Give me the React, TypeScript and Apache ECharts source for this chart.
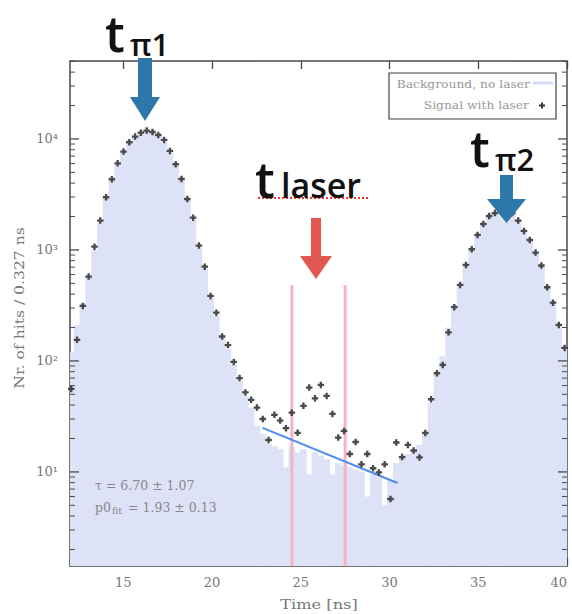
import React, { useEffect, useRef } from 'react';
import * as echarts from 'echarts';

// ---- data -------------------------------------------------------------
const BIN_WIDTH = 0.327; // ns per bin
const FIRST_BIN_CENTER = 12.07; // ns

// Signal with laser (hits per bin), one value per 0.327 ns bin
const SIGNAL = [
  56, 155, 313, 575, 1070, 1840, 2985, 4335, 6030, 7690,
  9340, 10500, 11400, 11900, 11560, 10860, 9800, 7800, 5920, 4360,
  2880, 1955, 1095, 707, 385, 272, 166, 139, 98, 70,
  52, 44.6, 38, 30, 19.4, 32.7, 29, 24.8, 34.2, 22.5,
  39.4, 57.5, 46, 60.8, 48.4, 33.3, 20.4, 23.4, 14.5, 18.6,
  11.7, 14.5, 10.8, 9.9, 11.7, 5.7, 18.4, 13.6, 17.5, 15.6,
  13.5, 22.4, 45.2, 77.4, 92, 181, 305, 484, 733, 1014,
  1365, 1714, 2023, 2150, 2250, 2280, 2150, 1840, 1483, 1230,
  946, 724, 461, 335, 211, 131,
];

// Background, no laser (hits per bin)
const BACKGROUND = [
  120, 210, 330, 560, 1000, 1750, 2900, 4200, 5900, 7500,
  9100, 10300, 11200, 11700, 11400, 10600, 9500, 7600, 5700, 4200,
  2800, 1850, 1050, 680, 370, 255, 160, 128, 92, 66,
  48, 38, 26, 22, 18, 17, 16, 11, 17, 15,
  16, 9.5, 15, 14, 13, 9.5, 12, 11.5, 11, 10.5,
  10, 6, 9.5, 9, 5, 8.5, 12, 13.5, 14.5, 15.8,
  17.5, 21.5, 42, 75, 110, 200, 320, 480, 720, 1000,
  1350, 1700, 2000, 2150, 2250, 2270, 2150, 1850, 1500, 1230,
  950, 720, 470, 340, 215, 135,
];

// Exponential fit (tau = 6.70 ns): end points
const FIT_TIMES = [22.85, 30.45];
const FIT_COUNTS = [24.9, 7.95];

// Laser window
const LASER_WINDOW = [24.5, 27.5];
const LASER_LINE_TOP = 480;

const X_TICKS = [15, 20, 25, 30, 35, 40];
const Y_TICKS = [10, 100, 1000, 10000];
const Y_MINOR_TICKS = [
  2, 3, 4, 5, 6, 7, 8, 9,
  20, 30, 40, 50, 60, 70, 80, 90,
  200, 300, 400, 500, 600, 700, 800, 900,
  2000, 3000, 4000, 5000, 6000, 7000, 8000, 9000,
  20000, 30000, 40000, 50000,
];
const X_MIN = 12;
const X_MAX = 40;
const Y_MIN = 1.42;
const Y_MAX = 50400;

const BIN_TIMES = SIGNAL.map((_, i) => +(FIRST_BIN_CENTER + i * BIN_WIDTH).toFixed(3));

// ---- styles -----------------------------------------------------------
const FILL = '#dde2f7';
const AXIS = '#4a4a4a';
const LABEL = '#777';
const SERIF = '"DejaVu Serif", serif';
const SANS = '"Open Sans", sans-serif';
const BLUE_ARROW = '#2e77aa';
const RED_ARROW = '#e2574f';

const SUP: Record<number, string> = { 0: '⁰', 1: '¹', 2: '²', 3: '³', 4: '⁴', 5: '⁵' };

const PLUS = 'path://M3.2,0H6.8V3.2H10V6.8H6.8V10H3.2V6.8H0V3.2H3.2Z';

export default function App() {
  const ref = useRef<HTMLDivElement>(null);

  useEffect(() => {
    if (!ref.current) return;
    const chart = echarts.init(ref.current, undefined, { renderer: 'svg' });

    const tickStyle = { color: AXIS, width: 1.3 };
    const yTickData = [
      ...Y_TICKS.map((v) => [X_MIN, v, 9]),
      ...Y_MINOR_TICKS.map((v) => [X_MIN, v, 5]),
    ];

    const bigT = (text: string, x: number, y: number, size: number) => ({
      type: 'text',
      x,
      y,
      z: 61,
      style: {
        text,
        fill: '#111',
        font: `600 ${size}px ${SANS}`,
        lineHeight: size,
        align: 'left',
        verticalAlign: 'middle',
      },
    });

    const option: any = {
      animation: false,
      backgroundColor: '#fff',
      grid: { left: 70, top: 61, right: 5, bottom: 48, containLabel: false, outerBoundsMode: 'none' },
      xAxis: [
        {
          type: 'value',
          min: X_MIN,
          max: X_MAX,
          position: 'bottom',
          axisLine: { show: true, lineStyle: { color: AXIS, width: 1.5 } },
          axisTick: { show: true, inside: true, length: 8, customValues: X_TICKS, lineStyle: tickStyle },
          axisLabel: {
            customValues: X_TICKS,
            color: LABEL,
            fontFamily: SERIF,
            fontSize: 13,
            margin: 10,
            alignMaxLabel: 'right',
          },
          splitLine: { show: false },
        },
        {
          type: 'value',
          min: X_MIN,
          max: X_MAX,
          position: 'top',
          axisLine: { show: true, lineStyle: { color: AXIS, width: 1.5 } },
          axisTick: { show: true, inside: true, length: 8, customValues: X_TICKS, lineStyle: tickStyle },
          axisLabel: { show: false },
          splitLine: { show: false },
        },
      ],
      yAxis: [
        {
          type: 'log',
          logBase: 10,
          min: Y_MIN,
          max: Y_MAX,
          position: 'left',
          splitLine: { show: false },
          axisLine: { show: true, lineStyle: { color: AXIS, width: 1.5 } },
          axisTick: { show: false },
          axisLabel: {
            customValues: Y_TICKS,
            color: LABEL,
            fontFamily: SERIF,
            fontSize: 13,
            margin: 12,
            formatter: (v: number) => '10' + SUP[Math.round(Math.log10(v))],
          },
        },
        {
          type: 'log',
          logBase: 10,
          min: Y_MIN,
          max: Y_MAX,
          position: 'right',
          splitLine: { show: false },
          axisLine: { show: true, lineStyle: { color: AXIS, width: 1.5 } },
          axisTick: { show: false },
          axisLabel: { show: false },
        },
      ],
      series: [
        {
          name: 'Background, no laser',
          type: 'custom',
          xAxisIndex: 0,
          yAxisIndex: 0,
          clip: true,
          z: 1,
          encode: { x: 0, y: 1 },
          data: BIN_TIMES.map((t, i) => [t, BACKGROUND[i]]),
          renderItem: (params: any, api: any) => {
            const t = api.value(0);
            const v = api.value(1);
            const a = api.coord([t - BIN_WIDTH / 2, v]);
            const b = api.coord([t + BIN_WIDTH / 2, v]);
            const cs = params.coordSys;
            const bottom = cs.y + cs.height;
            return {
              type: 'rect',
              shape: { x: a[0] - 0.4, y: a[1], width: b[0] - a[0] + 0.8, height: bottom - a[1] },
              style: { fill: FILL },
            };
          },
        },
        ...LASER_WINDOW.map((t) => ({
          type: 'line',
          xAxisIndex: 0,
          yAxisIndex: 0,
          z: 2,
          symbol: 'none',
          data: [[t, Y_MIN], [t, LASER_LINE_TOP]],
          lineStyle: { color: '#f5b3c3', width: 3 },
          silent: true,
        })),
        {
          name: 'Fit',
          type: 'line',
          xAxisIndex: 0,
          yAxisIndex: 0,
          z: 3,
          symbol: 'none',
          data: FIT_TIMES.map((t, i) => [t, FIT_COUNTS[i]]),
          lineStyle: { color: '#4f8cf0', width: 2 },
        },
        {
          name: 'Signal with laser',
          type: 'scatter',
          xAxisIndex: 0,
          yAxisIndex: 0,
          z: 4,
          symbol: PLUS,
          symbolSize: 6.5,
          itemStyle: { color: '#363636', opacity: 0.9 },
          data: BIN_TIMES.map((t, i) => [t, SIGNAL[i]]),
        },
        {
          // log-axis ticks (major and minor) on the left and right frame
          name: 'y ticks',
          type: 'custom',
          xAxisIndex: 0,
          yAxisIndex: 0,
          z: 6,
          silent: true,
          encode: { x: 0, y: 1 },
          data: yTickData,
          renderItem: (params: any, api: any) => {
            const v = api.value(1);
            const len = api.value(2);
            const l = api.coord([X_MIN, v]);
            const r = api.coord([X_MAX, v]);
            const w = len > 6 ? 1.3 : 1;
            return {
              type: 'group',
              children: [
                { type: 'line', shape: { x1: l[0], y1: l[1], x2: l[0] + len, y2: l[1] }, style: { stroke: AXIS, lineWidth: w } },
                { type: 'line', shape: { x1: r[0] - len, y1: r[1], x2: r[0], y2: r[1] }, style: { stroke: AXIS, lineWidth: w } },
              ],
            };
          },
        },
      ],
      graphic: [
        // axis titles
        {
          type: 'text',
          x: 19,
          y: 308,
          rotation: Math.PI / 2,
          scaleX: 1.2,
          style: { text: 'Nr. of hits / 0.327 ns', fill: LABEL, font: `13px ${SERIF}`, align: 'center', verticalAlign: 'middle' },
        },
        {
          type: 'text',
          x: 319,
          y: 604,
          scaleX: 1.2,
          style: { text: 'Time [ns]', fill: LABEL, font: `13.5px ${SERIF}`, align: 'center', verticalAlign: 'middle' },
        },
        // fit results
        {
          type: 'text',
          x: 95,
          y: 485,
          z: 50,
          style: { text: 'τ = 6.70 ± 1.07', fill: '#888', font: `12.5px ${SERIF}`, align: 'left', verticalAlign: 'middle' },
        },
        {
          type: 'text',
          x: 95,
          y: 507,
          z: 50,
          style: {
            text: 'p0{sub|fit} = 1.93 ± 0.13',
            fill: '#888',
            font: `12.5px ${SERIF}`,
            align: 'left',
            verticalAlign: 'middle',
            rich: { sub: { fontSize: 9.5, fontFamily: 'DejaVu Serif', fill: '#888', padding: [7, 2, 0, 1] } },
          },
        },
        // legend
        {
          type: 'rect',
          z: 50,
          shape: { x: 389, y: 73, width: 167, height: 46 },
          style: { fill: '#fff', stroke: '#444', lineWidth: 1.2 },
        },
        {
          type: 'text',
          x: 530,
          y: 84,
          z: 51,
          scaleX: 1.12,
          style: { text: 'Background, no laser', fill: '#999', font: `11px ${SERIF}`, align: 'right', verticalAlign: 'middle' },
        },
        {
          type: 'line',
          z: 51,
          shape: { x1: 533, y1: 83, x2: 553, y2: 83 },
          style: { stroke: '#d3dcf6', lineWidth: 3 },
        },
        {
          type: 'text',
          x: 529,
          y: 105,
          z: 51,
          scaleX: 1.12,
          style: { text: 'Signal with laser', fill: '#999', font: `11px ${SERIF}`, align: 'right', verticalAlign: 'middle' },
        },
        {
          type: 'polygon',
          z: 51,
          shape: {
            points: [
              [541, 102.5], [543, 102.5], [543, 104.5], [545, 104.5], [545, 106.5], [543, 106.5],
              [543, 108.5], [541, 108.5], [541, 106.5], [539, 106.5], [539, 104.5], [541, 104.5],
            ],
          },
          style: { fill: '#383838' },
        },
        // arrows
        {
          type: 'polygon',
          z: 60,
          shape: { points: [[138, 58], [152, 58], [152, 97], [160, 97], [145, 121], [130, 97], [138, 97]] },
          style: { fill: BLUE_ARROW },
        },
        {
          type: 'polygon',
          z: 60,
          shape: { points: [[500, 175], [513, 175], [513, 199], [526, 199], [506.5, 223], [487, 199], [500, 199]] },
          style: { fill: BLUE_ARROW },
        },
        {
          type: 'polygon',
          z: 60,
          shape: { points: [[311, 218], [321, 218], [321, 256], [332, 256], [316, 279], [300, 256], [311, 256]] },
          style: { fill: RED_ARROW },
        },
        // annotation labels
        {
          type: 'line',
          z: 60,
          shape: { x1: 258, y1: 198, x2: 368, y2: 198 },
          style: { stroke: '#e53935', lineWidth: 2, lineDash: [2, 2] },
        },
        bigT('t', 105, 33, 50),
        bigT('π1', 130, 44, 31),
        bigT('t', 470, 148, 50),
        bigT('π2', 495, 159, 31),
        bigT('t', 255, 179, 50),
        bigT('laser', 281, 185, 34),
      ],
    };

    chart.setOption(option);
    return () => chart.dispose();
  }, []);

  return (
    <div
      ref={ref}
      style={{ position: 'absolute', left: 0, top: 0, width: 572, height: 614, background: '#fff' }}
    />
  );
}
